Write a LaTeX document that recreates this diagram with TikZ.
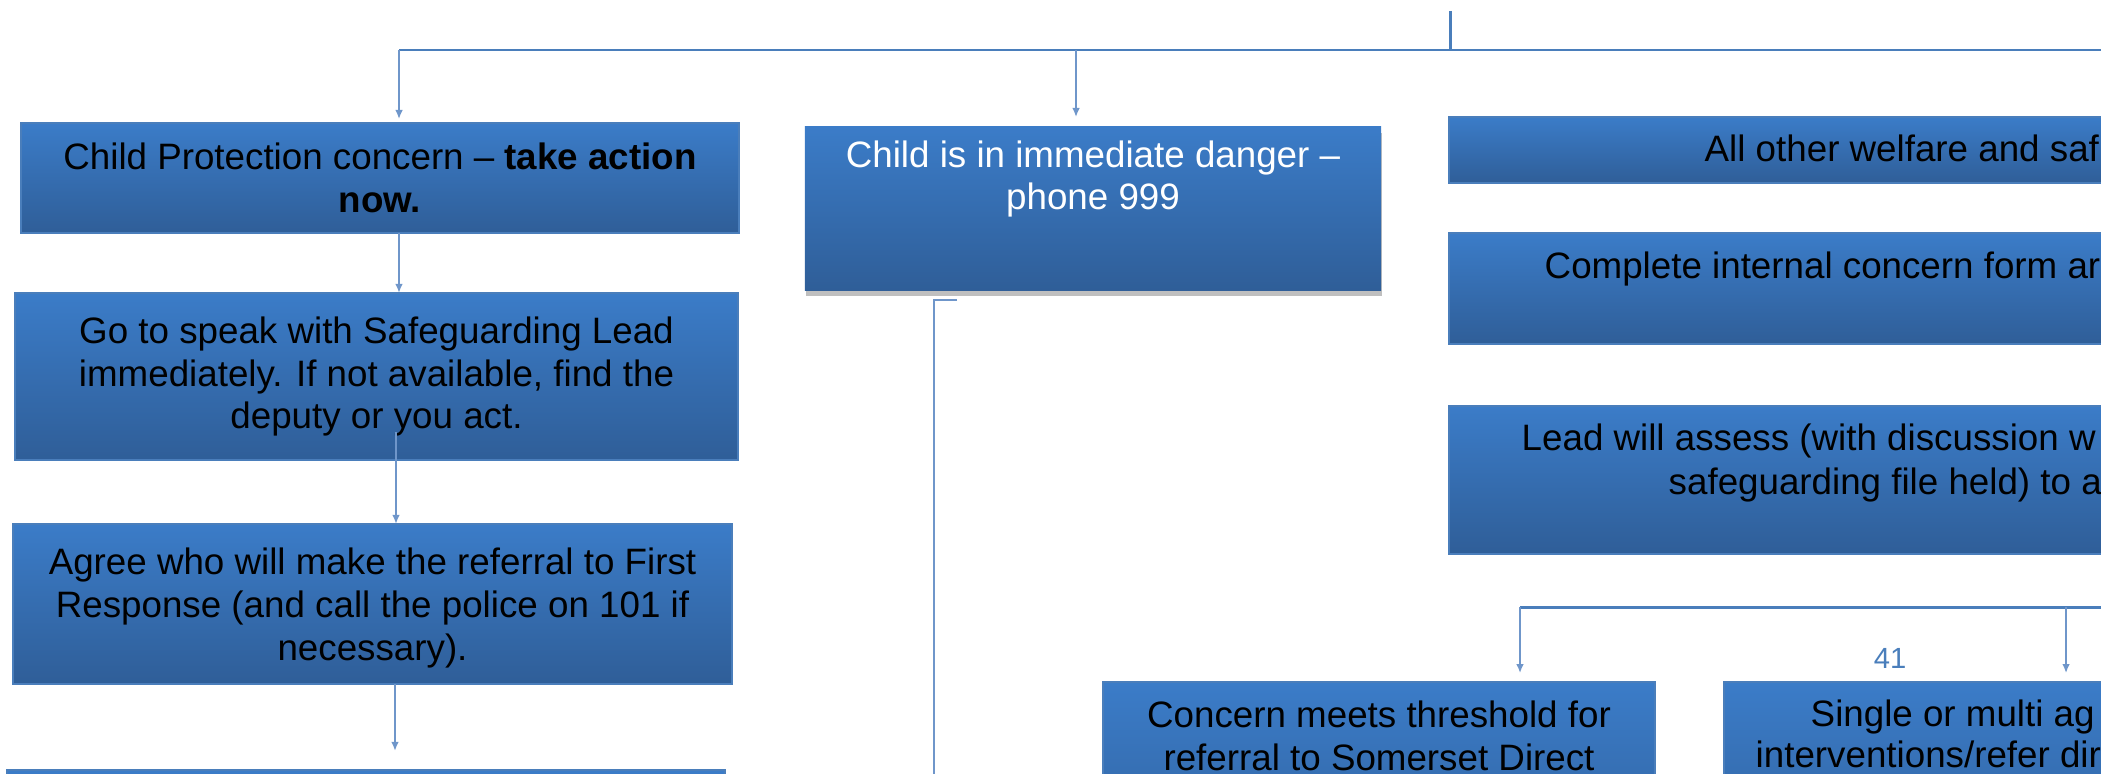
\documentclass[tikz,border=0pt]{standalone}
\usepackage{fontspec}
\setmainfont{Liberation Sans}
\usetikzlibrary{arrows.meta,shadows}
\definecolor{boxtop}{RGB}{59,124,200}
\definecolor{boxbot}{RGB}{47,94,152}
\definecolor{edge}{RGB}{74,126,187}
\definecolor{conn}{RGB}{111,150,202}
\definecolor{trunk}{RGB}{74,126,187}
\begin{document}
\begin{tikzpicture}[x=0.01cm,y=-0.01cm,
  bx/.style={draw=edge, line width=0.5pt, top color=boxtop, bottom color=boxbot,
    inner sep=0pt, outer sep=0pt, font=\fontsize{10.45}{12.2}\selectfont, align=center, text=black},
  txt/.style={font=\fontsize{10.45}{12.2}\selectfont, align=center, inner sep=0pt},
  frag/.style={font=\fontsize{10.45}{12.2}\selectfont, anchor=base west, inner sep=0pt, text=black},
  trunkline/.style={draw=trunk, line width=0.85pt},
  connline/.style={draw=conn, line width=0.57pt},
  arr/.style={connline, -{Latex[length=2.6pt,width=2.2pt]}},
]
\useasboundingbox (0,0) rectangle (2101,773);
\clip (0,0) rectangle (2101,773);

% boxes
\node[bx, minimum width=7.18cm, minimum height=1.10cm] (b1) at (380,178)
  {Child Protection concern -- \textbf{take action}\\\textbf{now.}};
\node[bx, minimum width=7.23cm, minimum height=1.67cm] (b2) at (376.5,376.5)
  {Go to speak with Safeguarding Lead\\immediately. If not available, find the\\deputy or you act.};
\node[bx, minimum width=7.19cm, minimum height=1.60cm] (b3) at (372.5,604) {};
\node[bx, minimum width=7.18cm, minimum height=1.30cm] (b0) at (366,835) {};
\node[bx, draw=none, minimum width=5.76cm, minimum height=1.63cm,
  drop shadow={shadow xshift=0.3pt, shadow yshift=-1.6pt, opacity=0.5}] (b4) at (1093,208.5) {};
\node[bx, minimum width=9.51cm, minimum height=0.66cm] (b5) at (1924.5,150) {};
\node[bx, minimum width=9.51cm, minimum height=1.11cm] (b6) at (1924.5,288.5) {};
\node[bx, minimum width=9.51cm, minimum height=1.48cm] (b7) at (1924.5,480) {};
\node[bx, minimum width=5.52cm, minimum height=2.18cm] (b8) at (1379,791) {};
\node[bx, minimum width=6.76cm, minimum height=2.18cm] (b9) at (2062,791) {};

% texts
\node[txt, text=black] (t3) at (372.5,608)
  {Agree who will make the referral to First\\Response (and call the police on 101 if\\necessary).};
\node[txt, text=white] (t4) at (1093,179) {Child is in immediate danger --\\phone 999};
\node[frag] (t5) at (1704,162) {All other welfare and saf};
\node[frag] (t6) at (1544,278) {Complete internal concern form ar};
\node[frag] (t7a) at (1521,450) {Lead will assess (with discussion w};
\node[frag] (t7b) at (1668,494) {safeguarding file held) to a};
\node[txt, text=black] (t8) at (1379,736) {Concern meets threshold for\\referral to Somerset Direct};
\node[frag] (t9a) at (1810,726) {Single or multi ag};
\node[frag] (t9b) at (1755,767) {interventions/refer dir};
\node[font=\fontsize{8.3}{10}\selectfont, text=edge, inner sep=0pt] (pg) at (1890,658) {41};

% connectors
\coordinate (top) at (1450,11);
\coordinate (bl) at (399,50);
\coordinate (bm) at (1076,50);
\coordinate (br) at (2150,50);
\draw[trunkline] (top) -- (top |- bl);
\draw[trunkline] (bl) -- (br);
\draw[arr, shorten >=1.1pt] (bl) -- (bl |- b1.north);
\draw[arr, shorten >=2.8pt] (bm) -- (bm |- b4.north);
\draw[arr] (b1.south -| bl) -- (b2.north -| bl);
\coordinate (c2) at (396,432);
\draw[arr] (c2) -- (c2 |- b3.north);
\coordinate (c3) at (395,684);
\draw[arr, shorten >=5.4pt] (b3.south -| c3) -- (b0.north -| c3);
\coordinate (e1) at (957,300);
\coordinate (e2) at (934,300);
\coordinate (e3) at (934,800);
\draw[connline] (e1) -- (e2) -- (e3);
\coordinate (l1) at (1520,607);
\coordinate (l3) at (2066,607);
\coordinate (l2) at (2150,607);
\draw[trunkline] (l1) -- (l2);
\draw[arr, shorten >=2.5pt] (l1) -- (l1 |- b8.north);
\draw[arr, shorten >=2.5pt] (l3) -- (l3 |- b9.north);
\end{tikzpicture}
\end{document}
